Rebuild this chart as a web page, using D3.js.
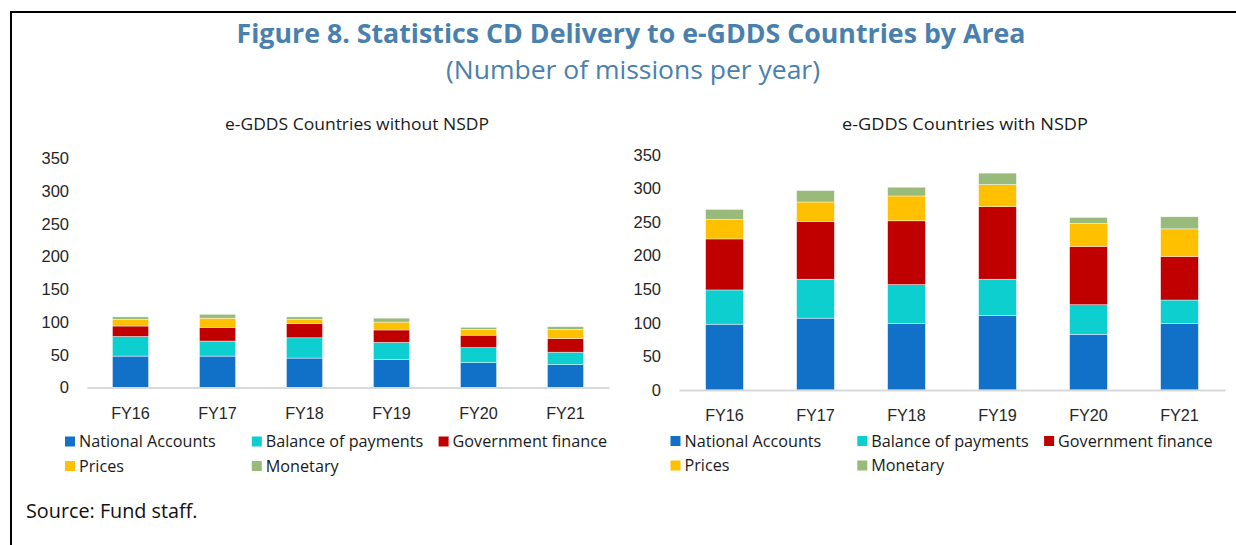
<!DOCTYPE html>
<html>
<head>
<meta charset="utf-8">
<script src="https://cdn.jsdelivr.net/npm/d3@7"></script>
<style>
  html, body { margin: 0; padding: 0; background: #fff; }
  svg { display: block; font-family: "Open Sans", "Noto Sans", sans-serif; }
  .tick text { fill: #262626; }
</style>
</head>
<body>
<svg id="chart" width="1236" height="545"></svg>
<script>
/* ---------- Dados ---------- */
const years   = ["FY16", "FY17", "FY18", "FY19", "FY20", "FY21"];
const series  = ["National Accounts", "Balance of payments", "Government finance", "Prices", "Monetary"];
const colors  = ["#1170c7", "#0ecfcf", "#c00000", "#ffc000", "#98bb7b"];
const yTicks  = [0, 50, 100, 150, 200, 250, 300, 350];

// e-GDDS countries without NSDP
const noNatAcc  = [48, 48, 45, 43, 38, 35];
const noBop     = [30, 23, 31, 26, 23, 19];
const noGov     = [16, 21, 22, 19, 19, 21];
const noPrices  = [10, 14, 6, 12, 9, 14];
const noMon     = [4, 6, 4, 6, 3, 4];

// e-GDDS countries with NSDP
const wNatAcc   = [98, 107, 99, 111, 83, 99];
const wBop      = [51, 58, 58, 54, 44, 35];
const wGov      = [76, 86, 95, 108, 87, 65];
const wPrices   = [29, 29, 37, 33, 34, 41];
const wMon      = [15, 17, 13, 17, 9, 18];

const panels = [
  { title: "e-GDDS Countries without NSDP", cols: [noNatAcc, noBop, noGov, noPrices, noMon],
    x0: 87, x1: 609, yBase: 387.5, yTop: 158.6, titleX: 357, titleW: 264, xPad: 20,
    legX: 65, legY: 441.5 },
  { title: "e-GDDS Countries with NSDP", cols: [wNatAcc, wBop, wGov, wPrices, wMon],
    x0: 679, x1: 1225, yBase: 390, yTop: 155, titleX: 965, titleW: 246, xPad: 19,
    legX: 670.5, legY: 441 }
];

const svg = d3.select("#chart");

/* ---------- Moldura ---------- */
svg.append("path")
  .attr("d", "M11,545 V12 H1236")
  .attr("fill", "none").attr("stroke", "#000").attr("stroke-width", 2);

/* ---------- Títulos ---------- */
svg.append("text")
  .attr("x", 631).attr("y", 43)
  .attr("text-anchor", "middle")
  .attr("font-size", 27).attr("font-weight", 700)
  .attr("fill", "#4a80ae")
  .attr("textLength", 789).attr("lengthAdjust", "spacingAndGlyphs")
  .text("Figure 8. Statistics CD Delivery to e-GDDS Countries by Area");

svg.append("text")
  .attr("x", 633).attr("y", 79)
  .attr("text-anchor", "middle")
  .attr("font-size", 25)
  .attr("fill", "#4a80ae")
  .attr("textLength", 374).attr("lengthAdjust", "spacingAndGlyphs")
  .text("(Number of missions per year)");

svg.append("text")
  .attr("x", 26).attr("y", 518)
  .attr("font-size", 19.8).attr("fill", "#111")
  .text("Source: Fund staff.");

/* ---------- Painéis ---------- */
panels.forEach(p => {
  const rows = years.map((yr, i) => {
    const r = { year: yr };
    series.forEach((s, j) => r[s] = p.cols[j][i]);
    return r;
  });
  const stacked = d3.stack().keys(series)(rows);

  const x = d3.scaleBand().domain(years).range([p.x0, p.x1])
    .paddingInner(0.585).paddingOuter(0.2925);
  const y = d3.scaleLinear().domain([0, 350]).range([p.yBase, p.yTop]);

  const g = svg.append("g");

  // título do painel
  g.append("text")
    .attr("x", p.titleX).attr("y", 130)
    .attr("text-anchor", "middle")
    .attr("font-size", 17).attr("fill", "#1a1a1a")
    .attr("textLength", p.titleW).attr("lengthAdjust", "spacingAndGlyphs")
    .text(p.title);

  // eixo Y
  const yAx = g.append("g")
    .attr("transform", `translate(${p.x0},0)`)
    .call(d3.axisLeft(y).tickValues(yTicks).tickSize(0).tickPadding(18));
  yAx.select(".domain").remove();
  yAx.selectAll("text").attr("font-size", 16.5).attr("font-family", null);

  // barras empilhadas
  g.append("g").selectAll("g")
    .data(stacked).enter()
    .append("g")
    .attr("fill", (d, i) => colors[i])
    .selectAll("rect")
    .data(d => d).enter()
    .append("rect")
    .attr("x", d => x(d.data.year))
    .attr("width", x.bandwidth())
    .attr("y", d => y(d[1]))
    .attr("height", d => y(d[0]) - y(d[1]))
    .attr("stroke", "#ffffff").attr("stroke-width", 0.6).attr("stroke-opacity", 0.7);

  // eixo X
  const xAx = g.append("g")
    .attr("transform", `translate(0,${p.yBase})`)
    .call(d3.axisBottom(x).tickSize(0).tickPadding(p.xPad));
  xAx.select(".domain").attr("stroke", "#d9d9d9").attr("stroke-width", 2);
  xAx.selectAll("text").attr("font-size", 16.2).attr("font-family", null);

  // legenda
  const leg = g.append("g").selectAll("g")
    .data(series).enter()
    .append("g")
    .attr("transform", (d, i) =>
      `translate(${p.legX + (i % 3) * 186.8},${p.legY + Math.floor(i / 3) * 24.5})`);
  leg.append("rect")
    .attr("x", 0).attr("y", -5).attr("width", 10).attr("height", 10)
    .attr("fill", (d, i) => colors[i]);
  leg.append("text")
    .attr("x", 14).attr("y", 0).attr("dy", "0.35em")
    .attr("font-size", 16.2).attr("fill", "#1a1a1a")
    .text(d => d);
});
</script>
</body>
</html>
